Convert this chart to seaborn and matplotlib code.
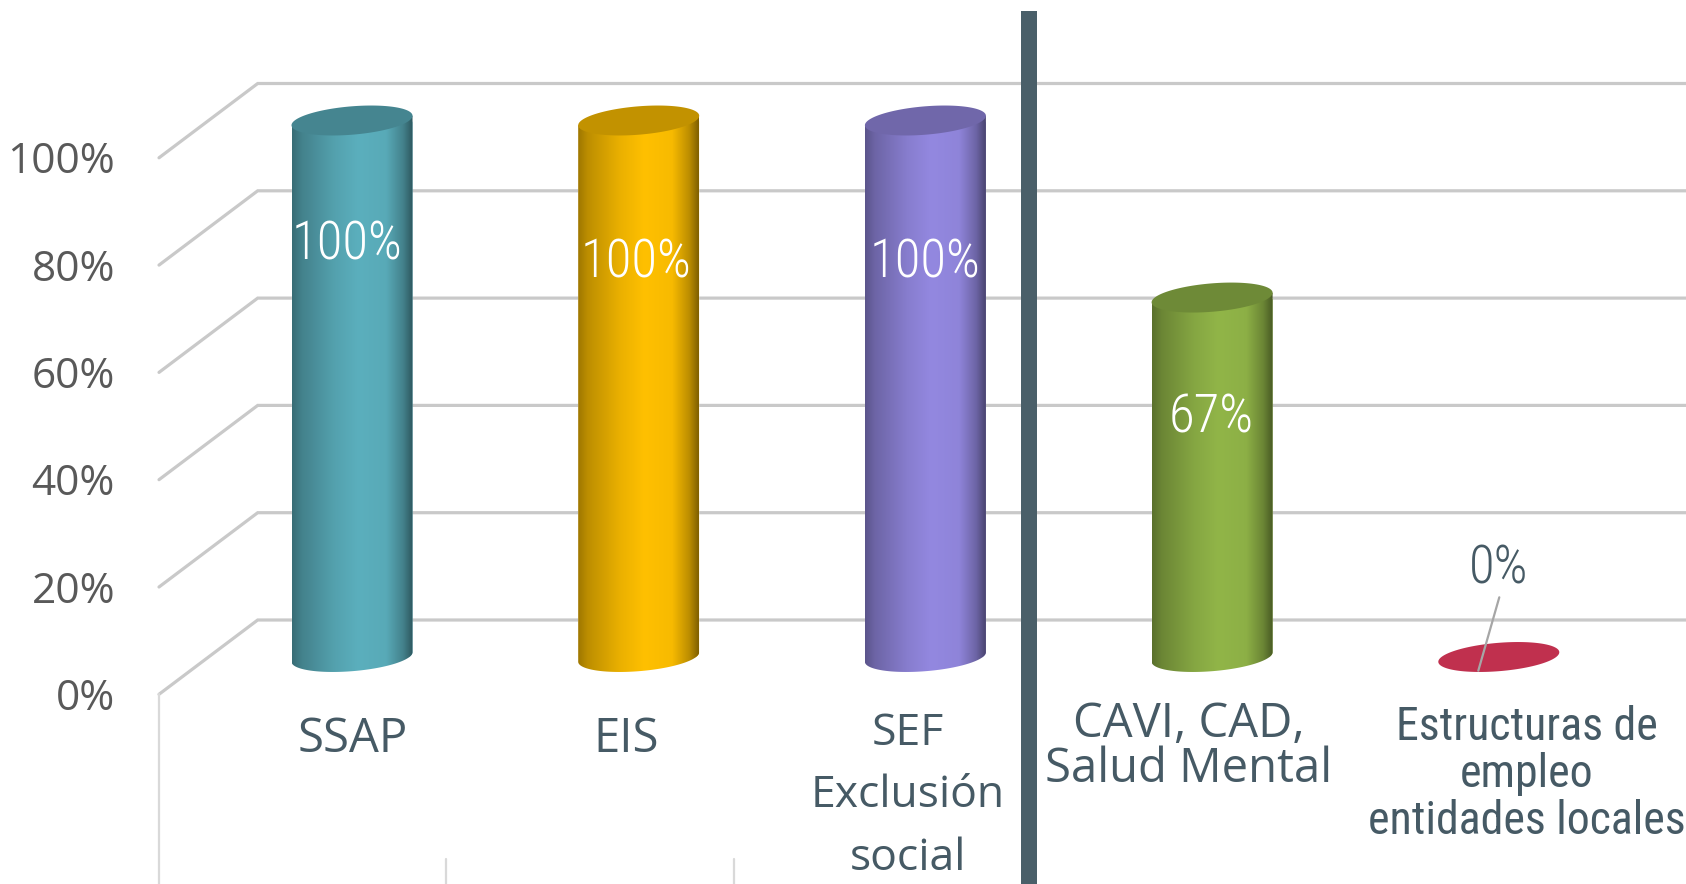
import numpy as np
import pandas as pd
import matplotlib
matplotlib.use("Agg")
import matplotlib.pyplot as plt
from matplotlib.path import Path
from matplotlib.patches import PathPatch
import seaborn as sns

categories = ["SSAP", "EIS", "SEF\nExclusión\nsocial", "CAVI, CAD,\nSalud Mental",
              "Estructuras de\nempleo\nentidades locales"]
values = [100, 100, 100, 67, 0]
colors = ["#5BAFBD", "#FFC000", "#9388E0", "#91B548", "#C0304E"]
value_labels = ["100%", "100%", "100%", "67%", "0%"]
axis_ticks = [0, 20, 40, 60, 80, 100]

INK = "#465A65"
W, H = 1686, 884
X0, XS, Y0, YS = 352.0, 286.7, 657.0, 5.365


def fx(px):
    return (px - X0) / XS


def fy(py):
    return (Y0 - py) / YS


sns.set_theme(style="white")
plt.rcParams["font.family"] = ["Open Sans", "DejaVu Sans"]
fig = plt.figure(figsize=(W / 100, H / 100), dpi=100)
ax = fig.add_axes([0, 0, 1, 1])
df = pd.DataFrame({"cat": categories, "val": values})
sns.barplot(data=df, x="cat", y="val", hue="cat", palette=colors, legend=False,
            width=121 / XS, saturation=1, ax=ax, zorder=3)
xlim = (fx(0), fx(W))
ylim = (fy(H), fy(0))

# walls
back, front = fy(620), fy(694.3)
grid_c = "#C9C9C9"
for t in axis_ticks:
    ax.plot([fx(159), fx(257.7), fx(W)], [front + t, back + t, back + t], color=grid_c,
            lw=2.3, solid_joinstyle="miter", zorder=1)
    ax.text(fx(115), front + t - 0.85, f"{t}%", ha="right", va="center", fontsize=30.5, color="#595959")
for a, b in [(159, 694), (446, 859), (734, 859)]:
    ax.plot([fx(a), fx(a)], [fy(b), fy(H)], color="#D9D9D9", lw=1.6, zorder=1)

# cylinders
shade_pos = [0, .08, .35, .55, .78, .92, 1]
shade_val = [.62, .74, .92, 1, .97, .74, .5]
tt = np.linspace(0, 2 * np.pi, 181)


def ellipse(cx, v, half_w):
    ex = cx + half_w * np.cos(tt)
    ey = v + (4.75 * np.cos(tt) + 14.2 * np.sin(tt)) / YS
    return ex, ey


bars = sorted([p for p in ax.patches if p.get_width() > 0], key=lambda p: p.get_x())
for bar, col in zip(bars, colors):
    cx = bar.get_x() + bar.get_width() / 2
    hw = bar.get_width() / 2
    v = bar.get_height()
    rgb = np.array(matplotlib.colors.to_rgb(col))
    ex0, ey0 = ellipse(cx, 0, hw)
    ext, eyt = ellipse(cx, v, hw)
    if v > 0:
        lower = tt >= np.pi
        bx, by = ex0[lower], ey0[lower]
        px = np.r_[bx, bx[-1], bx[0]]
        py = np.r_[by, v + by[-1], v + by[0]]
        clip = PathPatch(Path(np.c_[px, py]), transform=ax.transData, fc="none", ec="none")
        ax.add_patch(clip)
        bar.set_clip_path(clip)
        u = np.linspace(0, 1, 256)
        sh = np.interp(u, shade_pos, shade_val)
        img = (rgb[None, None, :] * sh[None, :, None]).clip(0, 1)
        im = ax.imshow(img, extent=(cx - hw, cx + hw, min(by.min(), 0) - 1, v + 5),
                       aspect="auto", interpolation="bilinear", zorder=3.5)
        im.set_clip_path(clip)
        ax.fill(ext, eyt, color=rgb * 0.76, lw=0, zorder=4)
    else:
        bar.set_visible(False)
        ax.fill(ext, eyt, color=rgb, lw=0, zorder=4)

# value labels
vl_pos = [(347.5, 245), (636, 263), (925.5, 263), (1211, 418), (1499, 569)]
for lab, (a, b), v in zip(value_labels, vl_pos, values):
    ax.text(fx(a), fy(b), lab, ha="center", va="center", fontsize=38, family="Roboto Condensed",
            weight=300, color="white" if v > 0 else INK, zorder=6)
ax.plot([fx(1499.3), fx(1478.3)], [fy(597.3), fy(670.7)], color="#A6A6A6", lw=1.6, zorder=5)

# category labels
cat_pos = [(352.7, 739), (626, 739), (907.6, 796), (1189, 747), (1527, 774)]
cat_ls = [1, 1, 1.54, 0.92, 1.075]
cat_size = [34, 34, 32, 34, 33]
cat_font = ["Open Sans", "Open Sans", "Open Sans", "Open Sans", "Roboto Condensed"]
for lab, (a, b), ls, s, f in zip(categories, cat_pos, cat_ls, cat_size, cat_font):
    ax.text(fx(a), fy(b), lab, ha="center", va="center", ma="center", fontsize=s, color=INK,
            linespacing=ls, family=f, zorder=6)

# divider
ax.fill_between([fx(1021), fx(1037)], fy(11), fy(H), color="#4A5F69", lw=0, zorder=7)

ax.set_xlim(xlim)
ax.set_ylim(ylim)
ax.axis("off")
fig.savefig("out.png", dpi=100)
